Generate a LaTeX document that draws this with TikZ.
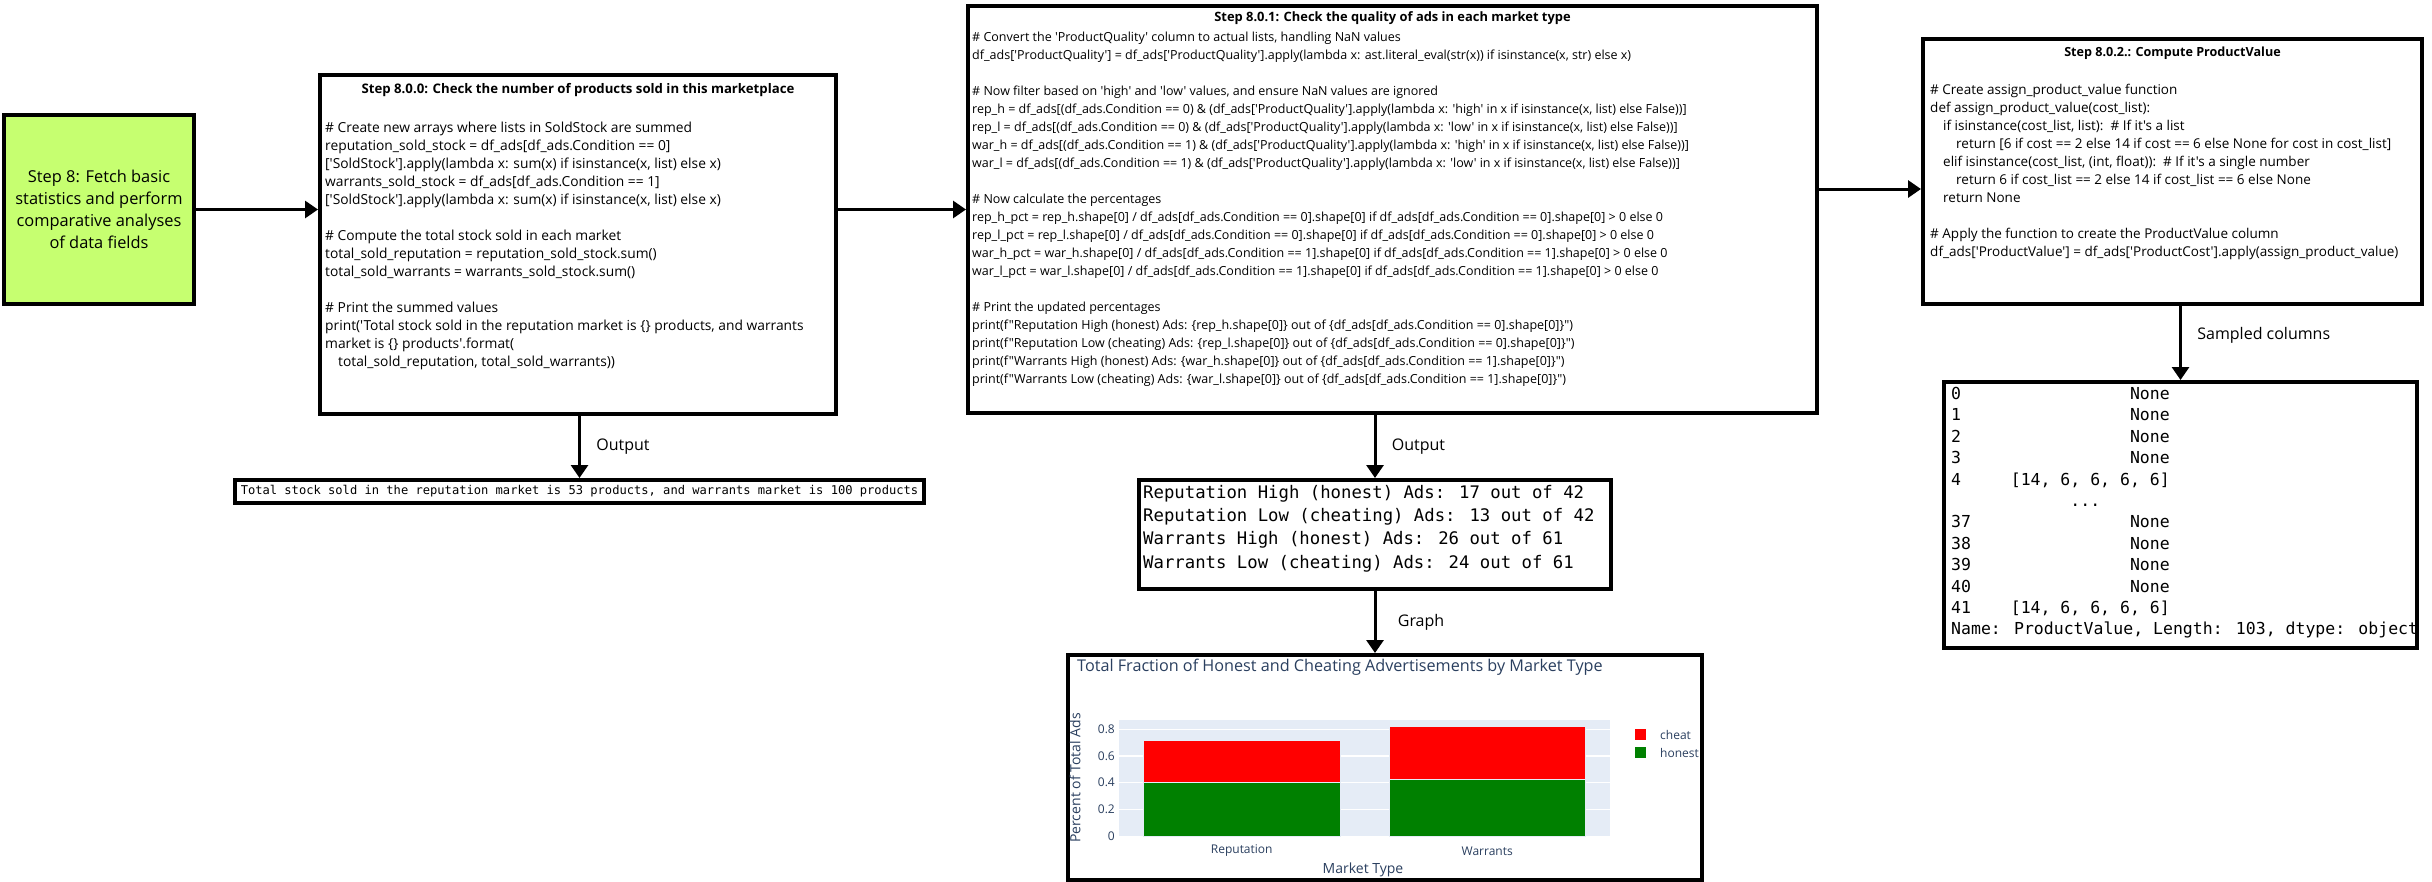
\documentclass[tikz,border=0pt]{standalone}
\usepackage{fontspec}
\setmainfont{Open Sans}[Ligatures=TeXOff]
\newfontfamily\monofont{DejaVu Sans Mono}
\usepackage{xcolor}
\usepackage{tikz}
\usetikzlibrary{arrows.meta, positioning, calc}

\definecolor{stepgreen}{RGB}{198,255,112}
\definecolor{plotbg}{RGB}{229,236,246}
\definecolor{plotink}{RGB}{42,63,95}
\definecolor{honestgreen}{RGB}{0,128,0}
\definecolor{cheatred}{RGB}{255,0,0}

% blank columns in monospaced output
\newcommand{\pad}[1]{\hspace*{#1\fontcharwd\font`\0}}

\tikzset{
  box/.style={draw=black, line width=4pt, inner sep=0pt, anchor=north west},
  flow/.style={line width=3pt, -{Triangle[length=13pt,width=17pt]}},
  flowlabel/.style={font=\fontsize{16}{18}\selectfont},
  codetext/.style={anchor=north west, inner sep=0pt, align=left},
  title/.style={inner sep=0pt, font=\bfseries\fontsize{#1}{18}\selectfont},
  charttext/.style={inner sep=0pt, text=plotink},
}

\begin{document}
\begin{tikzpicture}[x=1pt, y=-1pt]
  \path[use as bounding box, fill=white] (0,0) rectangle (2432,881);

  % Main step
  \node[box, fill=stepgreen, minimum width=190, minimum height=189, align=center,
        font=\fontsize{16.4}{22}\selectfont] (step8) at (2,113)
    {Step 8: Fetch basic\\statistics and perform\\comparative analyses\\of data fields};

  % Boxes
  \node[box, minimum width=516, minimum height=339] (box1) at (318,73) {};
  \node[box, minimum width=849, minimum height=407] (box2) at (966,4) {};
  \node[box, minimum width=499, minimum height=265] (box3) at (1921,37) {};
  \node[box, minimum width=689, minimum height=23, font=\monofont\fontsize{12.1}{14}\selectfont] (out1) at (233,478)
    {Total stock sold in the reputation market is 53 products, and warrants market is 100 products};
  \node[box, minimum width=472, minimum height=109] (out2) at (1137,478) {};
  \node[box, minimum width=473, minimum height=266] (samp) at (1942,380) {};
  \node[box, minimum width=634, minimum height=225] (chart) at (1066,653) {};

  % Step 8.0.0
  \node[title=13.2] (title1) at ($(box1.north)+(0,17)$)
    {Step 8.0.0: Check the number of products sold in this marketplace};
  \node[codetext, font=\fontsize{13.8}{18}\selectfont] (code1) at ($(box1.north west)+(7,48.4)$)
    {\# Create new arrays where lists in SoldStock are summed\\
     reputation\_sold\_stock = df\_ads[df\_ads.Condition == 0]\\
     {[}'SoldStock'].apply(lambda x: sum(x) if isinstance(x, list) else x)\\
     warrants\_sold\_stock = df\_ads[df\_ads.Condition == 1]\\
     {[}'SoldStock'].apply(lambda x: sum(x) if isinstance(x, list) else x)\\[18pt]
     \# Compute the total stock sold in each market\\
     total\_sold\_reputation = reputation\_sold\_stock.sum()\\
     total\_sold\_warrants = warrants\_sold\_stock.sum()\\[18pt]
     \# Print the summed values\\
     print('Total stock sold in the reputation market is \{\} products, and warrants\\
     market is \{\} products'.format(\\
     \hspace*{13pt}total\_sold\_reputation, total\_sold\_warrants))};

  % Step 8.0.1
  \node[title=12.9] (title2) at ($(box2.north)+(0,14)$)
    {Step 8.0.1: Check the quality of ads in each market type};
  \node[codetext, font=\fontsize{12.5}{18}\selectfont] (code2) at ($(box2.north west)+(6,28)$)
    {\# Convert the 'ProductQuality' column to actual lists, handling NaN values\\
     df\_ads['ProductQuality'] = df\_ads['ProductQuality'].apply(lambda x: ast.literal\_eval(str(x)) if isinstance(x, str) else x)\\[18pt]
     \# Now filter based on 'high' and 'low' values, and ensure NaN values are ignored\\
     rep\_h = df\_ads[(df\_ads.Condition == 0) \& (df\_ads['ProductQuality'].apply(lambda x: 'high' in x if isinstance(x, list) else False))]\\
     rep\_l = df\_ads[(df\_ads.Condition == 0) \& (df\_ads['ProductQuality'].apply(lambda x: 'low' in x if isinstance(x, list) else False))]\\
     war\_h = df\_ads[(df\_ads.Condition == 1) \& (df\_ads['ProductQuality'].apply(lambda x: 'high' in x if isinstance(x, list) else False))]\\
     war\_l = df\_ads[(df\_ads.Condition == 1) \& (df\_ads['ProductQuality'].apply(lambda x: 'low' in x if isinstance(x, list) else False))]\\[18pt]
     \# Now calculate the percentages\\
     rep\_h\_pct = rep\_h.shape[0] / df\_ads[df\_ads.Condition == 0].shape[0] if df\_ads[df\_ads.Condition == 0].shape[0] > 0 else 0\\
     rep\_l\_pct = rep\_l.shape[0] / df\_ads[df\_ads.Condition == 0].shape[0] if df\_ads[df\_ads.Condition == 0].shape[0] > 0 else 0\\
     war\_h\_pct = war\_h.shape[0] / df\_ads[df\_ads.Condition == 1].shape[0] if df\_ads[df\_ads.Condition == 1].shape[0] > 0 else 0\\
     war\_l\_pct = war\_l.shape[0] / df\_ads[df\_ads.Condition == 1].shape[0] if df\_ads[df\_ads.Condition == 1].shape[0] > 0 else 0\\[18pt]
     \# Print the updated percentages\\
     print(f"Reputation High (honest) Ads: \{rep\_h.shape[0]\} out of \{df\_ads[df\_ads.Condition == 0].shape[0]\}")\\
     print(f"Reputation Low (cheating) Ads: \{rep\_l.shape[0]\} out of \{df\_ads[df\_ads.Condition == 0].shape[0]\}")\\
     print(f"Warrants High (honest) Ads: \{war\_h.shape[0]\} out of \{df\_ads[df\_ads.Condition == 1].shape[0]\}")\\
     print(f"Warrants Low (cheating) Ads: \{war\_l.shape[0]\} out of \{df\_ads[df\_ads.Condition == 1].shape[0]\}")};

  % Step 8.0.2
  \node[title=12.6] (title3) at ($(box3.north)+(0,16)$)
    {Step 8.0.2.: Compute ProductValue};
  \node[codetext, font=\fontsize{13.5}{18}\selectfont] (code3) at ($(box3.north west)+(9,46.6)$)
    {\# Create assign\_product\_value function\\
     def assign\_product\_value(cost\_list):\\
     \hspace*{13pt}if isinstance(cost\_list, list):\ \ \# If it's a list\\
     \hspace*{26pt}return [6 if cost == 2 else 14 if cost == 6 else None for cost in cost\_list]\\
     \hspace*{13pt}elif isinstance(cost\_list, (int, float)):\ \ \# If it's a single number\\
     \hspace*{26pt}return 6 if cost\_list == 2 else 14 if cost\_list == 6 else None\\
     \hspace*{13pt}return None\\[18pt]
     \# Apply the function to create the ProductValue column\\
     df\_ads['ProductValue'] = df\_ads['ProductCost'].apply(assign\_product\_value)};

  % Outputs
  \node[codetext, font=\monofont\fontsize{17.3}{23.3}\selectfont] (res2) at ($(out2.north west)+(6,7)$)
    {Reputation High (honest) Ads: 17 out of 42\\
     Reputation Low (cheating) Ads: 13 out of 42\\
     Warrants High (honest) Ads: 26 out of 61\\
     Warrants Low (cheating) Ads: 24 out of 61};
  \node[codetext, font=\monofont\fontsize{16.5}{21.4}\selectfont] (res3) at ($(samp.north west)+(9,7)$)
    {0\pad{17}None\\
     1\pad{17}None\\
     2\pad{17}None\\
     3\pad{17}None\\
     4\pad{5}[14, 6, 6, 6, 6]\\
     \pad{12}...\\
     37\pad{16}None\\
     38\pad{16}None\\
     39\pad{16}None\\
     40\pad{16}None\\
     41\pad{4}[14, 6, 6, 6, 6]\\
     Name: ProductValue, Length: 103, dtype: object};

  % Chart
  \node[charttext, anchor=west, font=\fontsize{16.2}{18}\selectfont] (ctitle) at (1077,667)
    {Total Fraction of Honest and Cheating Advertisements by Market Type};
  \begin{scope}[shift={(1119,836)}, y=133.4pt]
    \fill[plotbg] (0,0) rectangle (491,0.87);
    \foreach \v in {0.2,0.4,0.6,0.8}
      \draw[white, line width=1.2pt] (0,\v) -- (491,\v);
    \foreach \v/\t [count=\i] in {0/0,0.2/0.2,0.4/0.4,0.6/0.6,0.8/0.8}
      \node[charttext, anchor=east, font=\fontsize{12}{14}\selectfont] (ytick\i) at (-4,\v) {\t};
    \filldraw[fill=honestgreen, draw=plotbg, line width=0.6pt] (24.5,0) rectangle (220.9,0.405);
    \filldraw[fill=cheatred, draw=plotbg, line width=0.6pt] (24.5,0.405) rectangle (220.9,0.714);
    \filldraw[fill=honestgreen, draw=plotbg, line width=0.6pt] (270,0) rectangle (466.4,0.426);
    \filldraw[fill=cheatred, draw=plotbg, line width=0.6pt] (270,0.426) rectangle (466.4,0.820);
  \end{scope}
  \node[charttext, font=\fontsize{12}{14}\selectfont] (xrep) at (1241.7,851) {Reputation};
  \node[charttext, font=\fontsize{12}{14}\selectfont] (xwar) at (1487.2,851) {Warrants};
  \node[charttext, font=\fontsize{14}{16}\selectfont] (xtitle) at (1363,870) {Market Type};
  \node[charttext, rotate=90, font=\fontsize{14}{16}\selectfont] (ytitle) at (1075,778) {Percent of Total Ads};
  \fill[cheatred] (1635,729) rectangle (1646,740);
  \fill[honestgreen] (1635,747) rectangle (1646,758);
  \node[charttext, anchor=west, font=\fontsize{12}{14}\selectfont] (lcheat) at (1660,735) {cheat};
  \node[charttext, anchor=west, font=\fontsize{12}{14}\selectfont] (lhonest) at (1660,753) {honest};

  % Connectors
  \coordinate (tap3) at (0,189);
  \draw[flow] (step8.east) -- (step8.east -| box1.west);
  \draw[flow] (step8.east -| box1.east) -- (step8.east -| box2.west);
  \draw[flow] (box2.east |- tap3) -- (box3.west |- tap3);
  \draw[flow] (box1.south -| out1.north) -- (out1.north)
    node[flowlabel, midway, right=12pt] {Output};
  \draw[flow] (box2.south -| out2.north) -- (out2.north)
    node[flowlabel, midway, right=12pt] {Output};
  \draw[flow] (out2.south) -- (out2.south |- chart.north)
    node[flowlabel, midway, right=18pt] {Graph};
  \draw[flow] (box3.south -| samp.north) -- (samp.north)
    node[flowlabel, midway, right=12pt, yshift=8pt] {Sampled columns};
\end{tikzpicture}
\end{document}
